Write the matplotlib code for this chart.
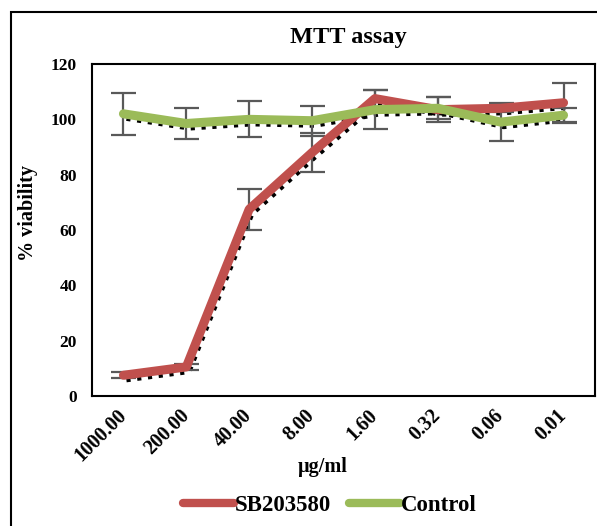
import matplotlib
matplotlib.use("Agg")
import matplotlib.pyplot as plt
import matplotlib.transforms as mtransforms
from matplotlib.patches import Rectangle
from matplotlib.lines import Line2D

categories = ['1000.00', '200.00', '40.00', '8.00', '1.60', '0.32', '0.06', '0.01']
sb_values = [7.5, 10.5, 67.5, 88, 107.5, 103.5, 104, 106]
sb_errors = [1, 1.2, 7.5, 7, 3, 4.5, 1.5, 7.3]
ctrl_values = [102, 98.5, 100, 99.5, 103.5, 104, 99, 101.5]
ctrl_errors = [7.5, 5.5, 6.5, 5.5, 7, 4, 6.8, 2.5]

RED = '#C0504D'
GREEN = '#9BBB59'
ERR = '#595959'

plt.rcParams['font.family'] = ['Liberation Serif', 'DejaVu Serif']
plt.rcParams['font.weight'] = 'bold'

W, H = 597, 526
fig = plt.figure(figsize=(W / 100, H / 100), dpi=100)
ax = fig.add_axes([92 / W, 1 - 396 / H, (595 - 92) / W, (396 - 64) / H])

x = list(range(len(categories)))

shadow_tr = mtransforms.offset_copy(ax.transData, fig=fig, x=3, y=-5, units='dots')
for vals in (sb_values, ctrl_values):
    ax.plot(x, vals, color='black', lw=3, linestyle=(0, (1, 1.6)),
            dash_capstyle='butt', transform=shadow_tr, zorder=1)

for vals, errs in ((sb_values, sb_errors), (ctrl_values, ctrl_errors)):
    ax.errorbar(x, vals, yerr=errs, fmt='none', ecolor=ERR, elinewidth=1.6,
                capsize=9, capthick=1.6, zorder=2)

ax.plot(x, sb_values, color=RED, lw=6.5, solid_capstyle='round',
        solid_joinstyle='round', zorder=3)
ax.plot(x, ctrl_values, color=GREEN, lw=6.5, solid_capstyle='round',
        solid_joinstyle='round', zorder=4)

ax.set_xlim(-0.5, len(categories) - 0.5)
ax.set_ylim(0, 120)
ax.set_yticks(range(0, 121, 20))
ax.set_xticks(x)
ax.set_xticklabels(categories, rotation=45, ha='right', va='center',
                   rotation_mode='anchor', fontsize=14.5, fontweight='bold')
for lab in ax.get_yticklabels():
    lab.set_fontsize(12.5)
    lab.set_fontweight('bold')
ax.tick_params(axis='both', length=0)
ax.tick_params(axis='y', pad=11)
ax.tick_params(axis='x', pad=12)
for s in ax.spines.values():
    s.set_linewidth(1.5)
    s.set_color('black')

fig.text(348 / W, 1 - 38 / H, 'MTT assay', ha='center', va='center',
         fontsize=17.5, fontweight='bold')
fig.text(323 / W, 1 - 467 / H, 'µg/ml', ha='center', va='center',
         fontsize=14.5, fontweight='bold')
fig.text(28 / W, 1 - 213 / H, '% viability', ha='center', va='center',
         rotation=90, fontsize=14.5, fontweight='bold')

handles = [Line2D([], [], color=RED, lw=6, solid_capstyle='round'),
           Line2D([], [], color=GREEN, lw=6, solid_capstyle='round')]
fig.legend(handles, ['SB203580', 'Control'], ncol=2, loc='center',
           bbox_to_anchor=(330 / W, 1 - 505 / H), frameon=False,
           prop={'size': 16.5, 'weight': 'bold'}, handlelength=2.2,
           handletextpad=0.05, columnspacing=0.8)

fig.patches.append(Rectangle((11 / W, -0.1), 2, 1 - 12 / H + 0.1,
                             transform=fig.transFigure, fill=False,
                             lw=1.5, edgecolor='black', clip_on=False))

fig.savefig('out.png', dpi=100)
